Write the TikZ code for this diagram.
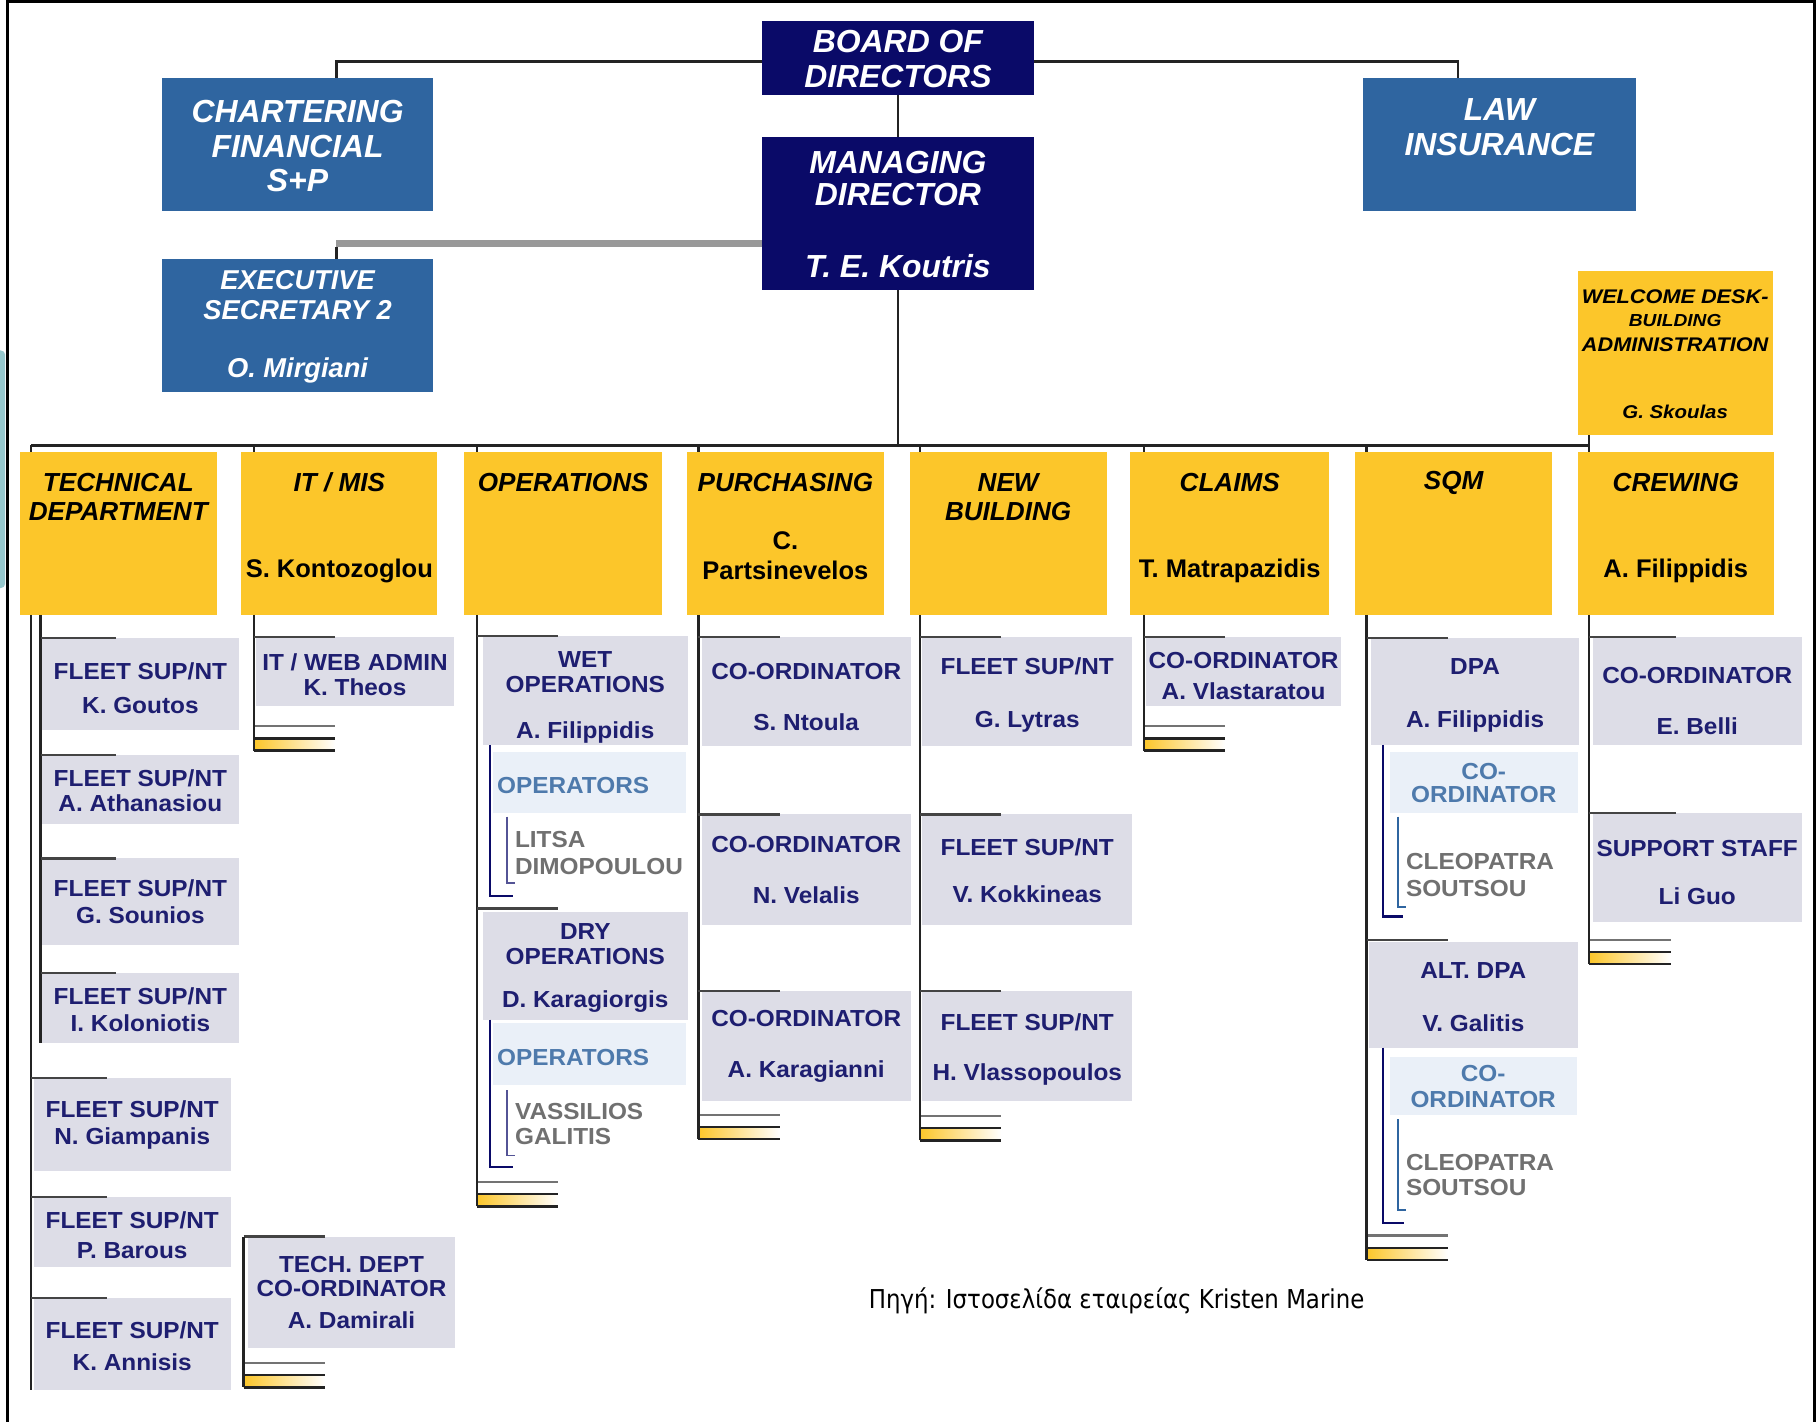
\documentclass[tikz,border=0pt]{standalone}
\usepackage{fontspec}
\setmainfont{Liberation Sans}
\newfontfamily\subf[FakeStretch=1.05]{Liberation Sans}
\newfontfamily\wdf[FakeStretch=1.1]{Liberation Sans}
\newfontfamily\greekf[FakeStretch=0.88]{DejaVu Sans}
\usetikzlibrary{calc}
\definecolor{navyc}{RGB}{10,10,104}
\definecolor{steelc}{RGB}{47,101,160}
\definecolor{goldc}{RGB}{252,198,42}
\definecolor{lavc}{RGB}{221,221,231}
\definecolor{subtxt}{RGB}{30,30,112}
\definecolor{palec}{RGB}{234,240,248}
\definecolor{optxt}{RGB}{78,122,172}
\definecolor{greytxt}{RGB}{112,112,112}
\definecolor{tealc}{RGB}{150,200,205}
\definecolor{linec}{RGB}{35,35,35}
\newcommand\bx[8]{%
  \node[#1, minimum width={(#5-#3)*0.5pt}, minimum height={(#6-#4)*0.5pt}] (#2) at ({(#3+#5)/2},{(#4+#6)/2}) {};
  \node[#1 text] (#2-t) at ({(#3+#5)/2},#7) {#8};}
\newcommand\finmark[3]{%
  \shade[left color=goldc, right color=white] (#2,#3+10.5) rectangle (#2+70,#3+21);
  \draw[mkg] (#2,#3) -- (#2+70,#3);
  \draw[mkl] (#2,#3+10.5) -- (#2+70,#3+10.5);
  \draw[mkl] (#2,#3+21) -- (#2+70,#3+21);
  \coordinate (#1) at (#2,#3+21);}
\begin{document}
\begin{tikzpicture}[x=0.5pt,y=-0.5pt,
  every node/.style={inner sep=0pt, outer sep=0pt},
  navybox/.style={fill=navyc},
  navybox text/.style={text=white, align=center, font=\bfseries\itshape\fontsize{13.75}{15}\selectfont},
  steelbox/.style={fill=steelc},
  steelbox text/.style={text=white, align=center, font=\bfseries\itshape\fontsize{13.75}{15}\selectfont},
  execbox/.style={fill=steelc},
  execbox text/.style={text=white, align=center, font=\bfseries\itshape\fontsize{11.75}{13}\selectfont},
  wbox/.style={fill=goldc},
  wbox text/.style={text=black, align=center, font=\wdf\bfseries\itshape\fontsize{8.5}{10}\selectfont},
  dept/.style={fill=goldc},
  dept text/.style={text=black, align=center, font=\bfseries\itshape\fontsize{11.25}{12.5}\selectfont},
  dname/.style={text=black, align=center, font=\bfseries\fontsize{11}{13}\selectfont},
  sub/.style={fill=lavc},
  sub text/.style={text=subtxt, align=center, font=\subf\bfseries\fontsize{10}{11}\selectfont},
  op/.style={fill=palec},
  op text/.style={text=optxt, align=center, font=\subf\bfseries\fontsize{10}{11}\selectfont},
  gtext/.style={text=greytxt, align=left, anchor=west, font=\subf\bfseries\fontsize{10}{11}\selectfont},
  conn/.style={draw=linec, line width=1pt},
  tickl/.style={draw=linec!85, line width=1pt},
  greyl/.style={draw=black!40, line width=2.8pt},
  innl/.style={draw=navyc, line width=0.9pt},
  innl2/.style={draw=navyc!70, line width=0.6pt},
  innl3/.style={draw=steelc, line width=0.6pt},
  mkg/.style={draw=black!55, line width=1pt},
  mkl/.style={draw=linec, line width=1pt}]
\useasboundingbox (0,0) rectangle (1568,1225);
\fill[white] (0,0) rectangle (1568,1225);
% left teal piece and frame
\fill[tealc, rounded corners=2pt] (-6,302) rectangle (4.5,507);
\draw[line width=1.3pt, black] (6.5,1235) -- (6.5,1.5) -- (1564,1.5) -- (1564,1235);

% top boxes
\bx{navybox}{board}{657}{18}{891}{82}{51}{BOARD OF\\DIRECTORS}
\bx{navybox}{md}{657}{118}{891}{250}{185}{MANAGING\\[-1pt]DIRECTOR\\[16pt]T. E. Koutris}
\bx{steelbox}{chart}{140}{67}{373}{182}{126}{CHARTERING\\FINANCIAL\\S+P}
\bx{steelbox}{law}{1175}{67}{1410}{182}{109.5}{LAW\\INSURANCE}
\bx{execbox}{exec}{140}{223}{373}{338}{282}{EXECUTIVE\\SECRETARY 2\\[12pt]O. Mirgiani}
\bx{wbox}{welcome}{1360}{234}{1528}{375}{305.5}{WELCOME DESK-\\{\fontsize{7.5}{10}\selectfont BUILDING}\\[0.5pt]ADMINISTRATION\\[19pt]{\fontsize{8}{10}\selectfont G. Skoulas}}

\coordinate (cc) at (290,53);
\coordinate (lc) at (1257,53);
\coordinate (gc) at (290,210);
\draw[conn] (board.west |- cc) -- (cc) -- (cc |- chart.north);
\draw[conn] (board.east |- lc) -- (lc) -- (lc |- law.north);
\draw[conn] (board.south) -- (md.north);
\draw[greyl] (md.west |- gc) -- (gc);
\draw[conn] ([yshift=-1.4pt]gc) -- (gc |- exec.north);

% departments
\bx{dept}{tech}{17}{390}{187}{530}{428.5}{TECHNICAL\\DEPARTMENT}
\bx{dept}{it}{208}{390}{377}{530}{416}{IT / MIS}
\bx{dept}{ops}{400}{390}{571}{530}{416}{OPERATIONS}
\bx{dept}{pur}{592}{390}{762}{530}{416}{PURCHASING}
\bx{dept}{nb}{784}{390}{954}{530}{428.5}{NEW\\BUILDING}
\bx{dept}{cla}{974}{390}{1146}{530}{416}{CLAIMS}
\bx{dept}{sqm}{1168}{390}{1338}{530}{416}{SQM}
\bx{dept}{cre}{1360}{390}{1529}{530}{416}{CREWING}
\node[dname] (it-n) at (292.5,492) {S. Kontozoglou};
\node[dname] (pur-n) at (677,479) {C.\\Partsinevelos};
\node[dname] (cla-n) at (1060,492) {T. Matrapazidis};
\node[dname] (cre-n) at (1444.5,492) {A. Filippidis};

\coordinate (busL) at (27,384);
\coordinate (busR) at (1370,384);
\coordinate (xTo) at (27,0);
\coordinate (xTi) at (35,0);
\coordinate (xIT) at (219,0);
\coordinate (xOp) at (411,0);
\coordinate (xPu) at (602,0);
\coordinate (xNB) at (793,0);
\coordinate (xCl) at (986,0);
\coordinate (xSQ) at (1178,0);
\coordinate (xCr) at (1370,0);
\coordinate (xTC) at (210,0);
\coordinate (xOi) at (422,0);
\coordinate (xOii) at (437,0);
\coordinate (xSi) at (1192,0);
\coordinate (xSii) at (1205,0);
\draw[conn] (busL) -- (busR);
\draw[conn] (md.south) -- (md.south |- busL);
\draw[conn] (welcome.south -| busR) -- (busR);
\foreach \d/\c in {tech/xTo, it/xIT, ops/xOp, pur/xPu, nb/xNB, cla/xCl, sqm/xSQ, cre/xCr}
  \draw[conn] (\c |- busL) -- (\c |- \d.north);

% technical department
\bx{sub}{gout}{36}{550}{206}{629}{593.5}{FLEET SUP/NT\\[3.5pt]K. Goutos}
\bx{sub}{atha}{36}{651}{206}{710}{681.5}{FLEET SUP/NT\\[-0.5pt]A. Athanasiou}
\bx{sub}{soun}{36}{740}{206}{815}{777.5}{FLEET SUP/NT\\[0.5pt]G. Sounios}
\bx{sub}{kolo}{36}{839}{206}{899}{870.5}{FLEET SUP/NT\\[0.5pt]I. Koloniotis}
\bx{sub}{giam}{29}{929}{199}{1009}{969.5}{FLEET SUP/NT\\[0.5pt]N. Giampanis}
\bx{sub}{baro}{29}{1032}{199}{1092}{1065}{FLEET SUP/NT\\[2pt]P. Barous}
\bx{sub}{anni}{29}{1119}{199}{1198}{1160.5}{FLEET SUP/NT\\[2.5pt]K. Annisis}
\bx{sub}{tcoo}{214}{1066}{392}{1162}{1114}{TECH. DEPT\\[-0.5pt]CO-ORDINATOR\\[2.5pt]A. Damirali}
\draw[conn] (xTo |- tech.south) -- (xTo |- anni.south);
\draw[conn] (xTi |- tech.south) -- (xTi |- kolo.south);
\foreach \b in {gout, atha, soun, kolo} \draw[tickl] (xTi |- \b.north) -- ++(65,0);
\foreach \b in {giam, baro, anni} \draw[tickl] (xTo |- \b.north) -- ++(65,0);
\finmark{tcend}{210}{1175}
\draw[tickl] (xTC |- tcoo.north) -- ++(70,0);
\draw[conn] (xTC |- tcoo.north) -- (tcend);

% IT
\bx{sub}{web}{221}{549}{391}{609}{581.5}{IT / WEB ADMIN\\[-0.5pt]K. Theos}
\finmark{itend}{219}{626}
\draw[conn] (xIT |- it.south) -- (itend);
\draw[tickl] (xIT |- web.north) -- ++(70,0);

% operations
\bx{sub}{wet}{416}{548}{593}{642}{601.5}{WET\\[-0.5pt]OPERATIONS\\[9pt]A. Filippidis}
\node[op, minimum width={166*0.5pt}, minimum height={53*0.5pt}] (opw) at (508,674.5) {};
\node[op text] (opw-t) at (494,677) {OPERATORS};
\node[gtext] (litsa) at (444,735.5) {LITSA\\[0.5pt]DIMOPOULOU};
\bx{sub}{dry}{416}{786}{593}{879}{834.5}{DRY\\OPERATIONS\\[7.5pt]D. Karagiorgis}
\node[op, minimum width={166*0.5pt}, minimum height={53*0.5pt}] (opd) at (508,908.5) {};
\node[op text] (opd-t) at (494,912) {OPERATORS};
\node[gtext] (vass) at (444,969) {VASSILIOS\\GALITIS};
\finmark{opend}{411}{1019}
\draw[conn] (xOp |- ops.south) -- (opend);
\draw[tickl] (xOp |- wet.north) -- ++(70,0);
\draw[tickl] (xOp |- dry.north) ++(0,-3) -- ++(70,0);
\draw[innl] (xOi |- wet.south) -- (xOi |- 0,772) -- (442,772);
\draw[innl2] (xOii |- 0,704) -- (xOii |- 0,761) -- (444,761);
\draw[innl] (xOi |- dry.south) -- (xOi |- 0,1006) -- (442,1006);
\draw[innl2] (xOii |- 0,940) -- (xOii |- 0,996) -- (444,996);

% purchasing
\bx{sub}{p1}{605}{549}{785}{643}{601}{CO-ORDINATOR\\[11pt]S. Ntoula}
\bx{sub}{p2}{605}{702}{785}{797}{750}{CO-ORDINATOR\\[11pt]N. Velalis}
\bx{sub}{p3}{605}{854}{785}{949}{902}{CO-ORDINATOR\\[11pt]A. Karagianni}
\finmark{puend}{602}{961}
\draw[conn] (xPu |- pur.south) -- (puend);
\foreach \b in {p1,p2,p3} \draw[tickl] (xPu |- \b.north) -- ++(70,0);

% new building
\bx{sub}{n1}{795}{549}{976}{643}{599}{FLEET SUP/NT\\[12pt]G. Lytras}
\bx{sub}{n2}{795}{702}{976}{797}{750.5}{FLEET SUP/NT\\[9.5pt]V. Kokkineas}
\bx{sub}{n3}{795}{854}{976}{949}{904.5}{FLEET SUP/NT\\[10.5pt]H. Vlassopoulos}
\finmark{nbend}{793}{962}
\draw[conn] (xNB |- nb.south) -- (nbend);
\foreach \b in {n1,n2,n3} \draw[tickl] (xNB |- \b.north) -- ++(70,0);

% claims
\bx{sub}{c1}{988}{549}{1156}{609}{582.5}{CO-ORDINATOR\\[2.5pt]A. Vlastaratou}
\finmark{clend}{986}{626}
\draw[conn] (xCl |- cla.south) -- (clend);
\draw[tickl] (xCl |- c1.north) -- ++(70,0);

% SQM
\bx{sub}{dpa}{1182}{550}{1361}{642}{599.5}{DPA\\[11.5pt]A. Filippidis}
\bx{op}{sc1}{1198}{648}{1360}{701}{675}{CO-\\[-1pt]ORDINATOR}
\node[gtext] (cleo1) at (1212,754.5) {CLEOPATRA\\[0.5pt]SOUTSOU};
\bx{sub}{alt}{1180}{812}{1360}{903}{859.5}{ALT. DPA\\[11.5pt]V. Galitis}
\bx{op}{sc2}{1198}{911}{1359}{961}{936.5}{CO-\\[0.5pt]ORDINATOR}
\node[gtext] (cleo2) at (1212,1013) {CLEOPATRA\\[0pt]SOUTSOU};
\finmark{sqend}{1178}{1065}
\draw[conn] (xSQ |- sqm.south) -- (sqend);
\draw[tickl] (xSQ |- dpa.north) -- ++(70,0);
\draw[tickl] (xSQ |- alt.north) ++(0,-2) -- ++(70,0);
\draw[innl] (xSi |- dpa.south) -- (xSi |- 0,790) -- (1209,790);
\draw[innl3] (xSii |- 0,704) -- (xSii |- 0,782) -- (1212,782);
\draw[innl] (xSi |- alt.south) -- (xSi |- 0,1054) -- (1210,1054);
\draw[innl3] (xSii |- 0,965) -- (xSii |- 0,1043) -- (1212,1043);

% crewing
\bx{sub}{cr1}{1373}{549}{1553}{642}{604}{CO-ORDINATOR\\[11pt]E. Belli}
\bx{sub}{cr2}{1373}{701}{1553}{795}{752}{SUPPORT STAFF\\[10pt]Li Guo}
\finmark{crend}{1370}{810}
\draw[conn] (xCr |- cre.south) -- (crend);
\foreach \b in {cr1,cr2} \draw[tickl] (xCr |- \b.north) -- ++(75,0);

% source
\node[font=\greekf\fontsize{11.2}{13}\selectfont, text=black] (src) at (962.5,1121) {Πηγή: Ιστοσελίδα εταιρείας Kristen Marine};
\end{tikzpicture}
\end{document}
